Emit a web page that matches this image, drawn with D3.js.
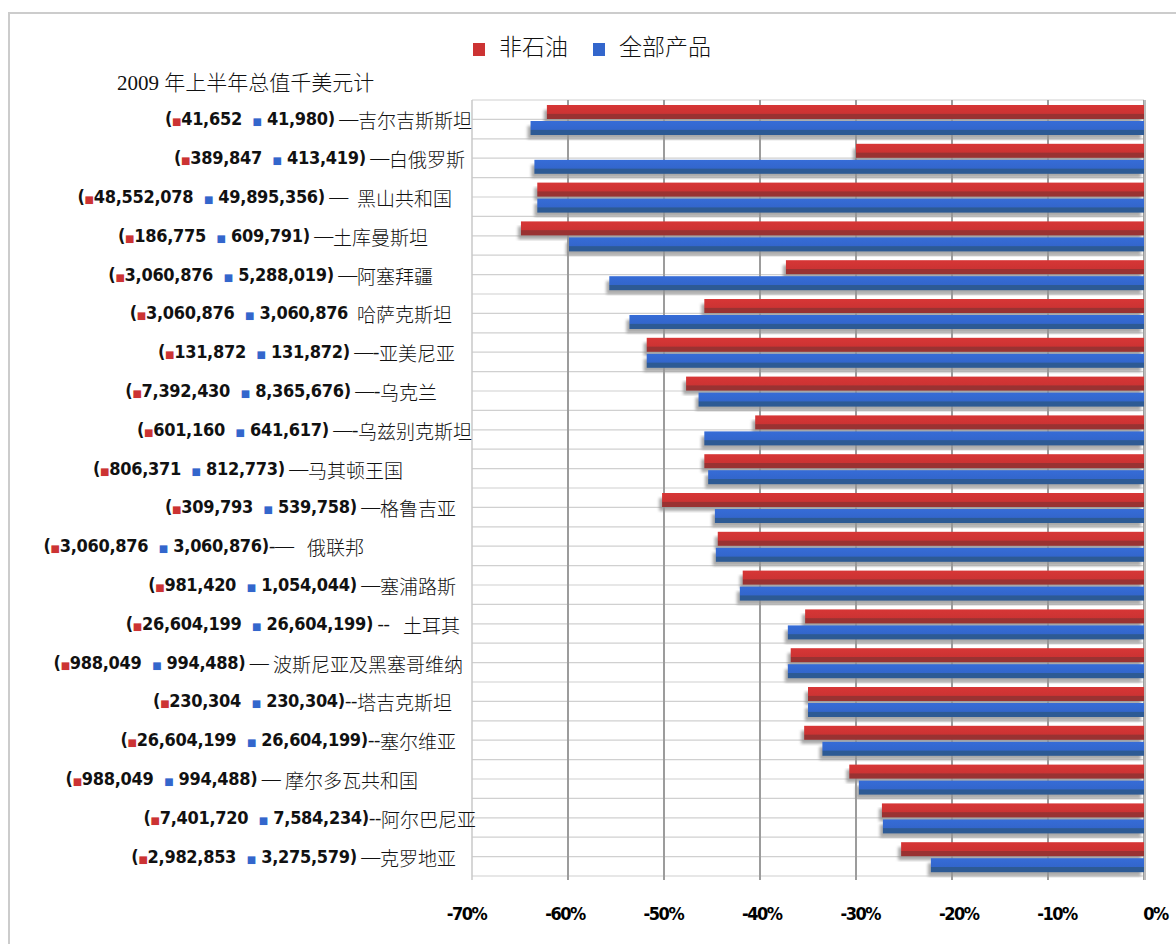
<!DOCTYPE html>
<html>
<head>
<meta charset="utf-8">
<script src="https://cdn.jsdelivr.net/npm/d3@7"></script>
<style>
    body { margin: 0; background: #fff; }
    svg text { white-space: pre; }
</style>
</head>
<body>
<svg id="chart" width="1176" height="944"></svg>
<script>
/*
 * Data
 * */
var countries = ['吉尔吉斯斯坦', '白俄罗斯', '黑山共和国', '土库曼斯坦', '阿塞拜疆', '哈萨克斯坦',
    '亚美尼亚', '乌克兰', '乌兹别克斯坦', '马其顿王国', '格鲁吉亚', '俄联邦', '塞浦路斯', '土耳其',
    '波斯尼亚及黑塞哥维纳', '塔吉克斯坦', '塞尔维亚', '摩尔多瓦共和国', '阿尔巴尼亚', '克罗地亚'];

// change in percent, first half of 2009
var nonOilChange = [-62.2, -30.0, -63.2, -64.9, -37.3, -45.8, -51.8, -47.7, -40.5, -45.8,
    -50.2, -44.4, -41.8, -35.3, -36.8, -35.0, -35.4, -30.7, -27.3, -25.3];
var allChange = [-63.9, -63.5, -63.2, -59.9, -55.7, -53.6, -51.8, -46.4, -45.8, -45.4,
    -44.7, -44.6, -42.1, -37.1, -37.1, -35.0, -33.5, -29.7, -27.2, -22.2];

// totals in thousand USD, as printed
var nonOilTotal = ['41,652', '389,847', '48,552,078', '186,775', '3,060,876', '3,060,876', '131,872',
    '7,392,430', '601,160', '806,371', '309,793', '3,060,876', '981,420', '26,604,199', '988,049',
    '230,304', '26,604,199', '988,049', '7,401,720', '2,982,853'];
var allTotal = ['41,980', '413,419', '49,895,356', '609,791', '5,288,019', '3,060,876', '131,872',
    '8,365,676', '641,617', '812,773', '539,758', '3,060,876', '1,054,044', '26,604,199', '994,488',
    '230,304', '26,604,199', '994,488', '7,584,234', '3,275,579'];
var closers = [')', ')', ')', ')', ')', '', ')', ')', ')', ')',
    ')', ')', ')', ')', ')', ')', ')', ')', ')', ')'];
var connectors = [' —', ' —', ' —\u00a0\u00a0', ' —', ' —', '\u00a0\u00a0', ' —-', ' —-', ' —-', ' —',
    ' —', '-—\u00a0\u00a0\u00a0', ' —', ' --\u00a0\u00a0\u00a0', ' — ', '--', '--', ' — ', '--', ' —'];

var seriesNames = ['非石油', '全部产品'];
var xTicks = [-70, -60, -50, -40, -30, -20, -10, 0];
var title = '2009 年上半年总值千美元计';

// label leader layout (shift of the label end from the plot's left edge)
var labelShift = [0, -7, -20, -44, -39, -20, -17, -35, 0, -69, -16, -108, -16, -12, -9, -20, -16, -54, 4, -16];

var red = '#cc3333',
    redDark = '#993232',
    blue = '#3366cc',
    blueDark = '#2d5a94',
    cjk = '"Noto Sans CJK SC", sans-serif',
    numFont = '"Liberation Sans Narrow", "DejaVu Sans Condensed", "Liberation Sans", sans-serif';

/*
 * Setup
 * */
var svg = d3.select('#chart');
var plotLeft = 472, plotRight = 1144, plotTop = 100, plotBottom = 876;

var x = d3.scaleLinear().domain([-70, 0]).range([plotLeft, plotRight]);
var xLabel = d3.scaleLinear().domain([-70, 0]).range([466, 1155]);
var y = d3.scaleBand().domain(countries).range([plotTop, plotBottom]);
var bw = y.bandwidth();

var defs = svg.append('defs');

function barGradient(id, main, dark) {
    var g = defs.append('linearGradient').attr('id', id)
        .attr('x1', 0).attr('y1', 0).attr('x2', 0).attr('y2', 1);
    g.append('stop').attr('offset', '0%').attr('stop-color', d3.color(main).brighter(0.15));
    g.append('stop').attr('offset', '60%').attr('stop-color', main);
    g.append('stop').attr('offset', '66%').attr('stop-color', dark);
    g.append('stop').attr('offset', '100%').attr('stop-color', dark);
}
barGradient('gradRed', red, redDark);
barGradient('gradBlue', blue, blueDark);

defs.append('filter').attr('id', 'blur')
    .append('feGaussianBlur').attr('stdDeviation', 1.6);

// outer frame
svg.append('rect')
    .attr('x', 9).attr('y', 13)
    .attr('width', 1300).attr('height', 1000)
    .attr('fill', 'none')
    .attr('stroke', '#cccccc')
    .attr('stroke-width', 2);

/*
 * Grid
 * */
var grid = svg.append('g');

var hLines = [];
countries.forEach(function (c) {
    hLines.push(y(c));
    hLines.push(y(c) + bw / 2);
});
hLines.push(plotBottom);

grid.selectAll('.h').data(hLines).enter().append('line')
    .attr('x1', plotLeft).attr('x2', plotRight)
    .attr('y1', function (d) { return d; })
    .attr('y2', function (d) { return d; })
    .attr('stroke', '#d0d0d0')
    .attr('stroke-width', 1.2);

grid.selectAll('.v').data(xTicks).enter().append('line')
    .attr('x1', function (d) { return x(d); })
    .attr('x2', function (d) { return x(d); })
    .attr('y1', plotTop).attr('y2', plotBottom + 4)
    .attr('stroke', function (d) { return d === -70 ? '#c8c8c8' : '#9c9c9c'; })
    .attr('stroke-width', function (d) { return d === -70 ? 1.5 : 2; });

/*
 * Bars
 * */
var series = [
    { key: seriesNames[0], values: nonOilChange, fill: 'url(#gradRed)', offset: 5 },
    { key: seriesNames[1], values: allChange, fill: 'url(#gradBlue)', offset: 21 }
];
var barH = 14;

series.forEach(function (s) {
    var g = svg.append('g');

    // shadow
    g.selectAll('.shadow').data(countries).enter().append('rect')
        .attr('x', function (d, i) { return x(s.values[i]) - 3; })
        .attr('y', function (d) { return y(d) + s.offset + 5; })
        .attr('width', function (d, i) { return x(0) - x(s.values[i]); })
        .attr('height', barH - 1)
        .attr('fill', '#949494')
        .attr('opacity', 0.8)
        .attr('filter', 'url(#blur)');

    g.selectAll('.bar').data(countries).enter().append('rect')
        .attr('x', function (d, i) { return x(s.values[i]); })
        .attr('y', function (d) { return y(d) + s.offset; })
        .attr('width', function (d, i) { return x(0) - x(s.values[i]); })
        .attr('height', barH)
        .attr('fill', s.fill);
});

// right edge
svg.append('line')
    .attr('x1', x(0) + 1).attr('x2', x(0) + 1)
    .attr('y1', plotTop).attr('y2', plotBottom + 4)
    .attr('stroke', '#bdbdbd').attr('stroke-width', 2);

/*
 * Axis labels
 * */
var axis = d3.axisBottom(xLabel)
    .tickValues(xTicks)
    .tickSize(0)
    .tickFormat(function (d) { return d + '%'; });

var axisG = svg.append('g')
    .attr('transform', 'translate(0,' + 904 + ')')
    .call(axis);
axisG.select('.domain').remove();
axisG.selectAll('text')
    .attr('fill', '#000')
    .style('font-family', numFont)
    .style('font-weight', 'bold')
    .style('font-size', '18px')
    .style('letter-spacing', '-1.5px');

/*
 * Row labels
 * */
var labels = svg.append('g');
countries.forEach(function (c, i) {
    var t = labels.append('text')
        .attr('x', plotLeft + labelShift[i])
        .attr('y', y(c) + bw / 2 + 6)
        .attr('text-anchor', 'end')
        .style('font-family', numFont)
        .style('font-weight', 'bold')
        .style('font-size', '18px')
        .style('letter-spacing', '-0.3px')
        .attr('fill', '#111');

    t.append('tspan').text('(');
    t.append('tspan').text('■').attr('fill', red)
        .style('font-family', 'DejaVu Sans').style('font-size', '10px');
    t.append('tspan').text(nonOilTotal[i] + '\u00a0\u00a0');
    t.append('tspan').text('■').attr('fill', blue)
        .style('font-family', 'DejaVu Sans').style('font-size', '10px');
    t.append('tspan').text('\u00a0' + allTotal[i] + closers[i]);
    t.append('tspan').text(connectors[i])
        .style('font-family', '"Liberation Serif", serif')
        .style('font-weight', 'normal')
        .style('font-size', '19px');
    t.append('tspan').text(c)
        .attr('dy', 3)
        .style('font-family', cjk)
        .style('font-weight', 300)
        .style('letter-spacing', '0px')
        .style('font-size', '19px');
});

/*
 * Title and legend
 * */
svg.append('text')
    .attr('x', 117).attr('y', 90)
    .style('font-family', '"Liberation Serif", ' + cjk)
    .style('font-size', '21px')
    .style('font-weight', 300)
    .attr('fill', '#111')
    .text(title);

var legend = svg.append('g');
var legendColors = [red, blue];
seriesNames.forEach(function (name, i) {
    var item = legend.append('g').attr('transform', 'translate(' + (473 + i * 120) + ',0)');
    item.append('rect')
        .attr('x', 0).attr('y', 43)
        .attr('width', 12).attr('height', 13)
        .attr('fill', legendColors[i]);
    item.append('text')
        .attr('x', 26).attr('y', 55)
        .style('font-family', cjk)
        .style('font-weight', 300)
        .style('font-size', '23px')
        .attr('fill', '#111')
        .text(name);
});
</script>
</body>
</html>
